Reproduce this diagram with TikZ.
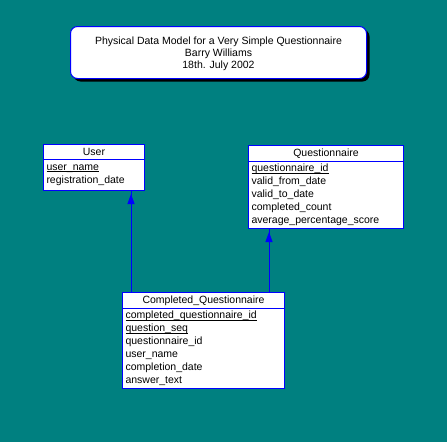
\documentclass[tikz,border=0pt]{standalone}
\usepackage{fontspec}
\setmainfont{Liberation Sans}
\usetikzlibrary{arrows.meta,shadows}
\definecolor{pdmsea}{RGB}{0,128,128}
\definecolor{pdmblue}{RGB}{0,0,255}
\newcommand{\keyfield}[1]{\leavevmode\setbox0\hbox{#1}\rlap{\rule[-1.8pt]{\wd0}{0.9pt}}\box0}

\begin{document}
\begin{tikzpicture}[x=1pt, y=-1pt, line width=1pt,
    font=\fontsize{10.5}{13}\selectfont,
    enthead/.style={draw=pdmblue, fill=white, anchor=north west, inner sep=0pt, minimum height=16pt},
    entbody/.style={draw=pdmblue, fill=white, anchor=north west, inner xsep=3pt, inner ysep=0pt, align=left},
    fklink/.style={draw=pdmblue},
    fkarrow/.style={draw=pdmblue, fill=pdmblue, -{Triangle[length=10pt, width=7pt]}, shorten >=3pt}]

  % Hintergrund
  \fill[pdmsea] (0,0) rectangle (447,442);
  \useasboundingbox (0,0) rectangle (447,442);

  % Titel
  \node[anchor=north west, draw=pdmblue, fill=white, rounded corners=7pt,
        general shadow={fill=black, shadow xshift=3pt, shadow yshift=-3pt},
        minimum width=296pt, minimum height=52pt, inner sep=0pt, text depth=-3pt, align=center,
        font=\fontsize{10.5}{12}\selectfont] (title) at (70,26)
    {Physical Data Model for a Very Simple Questionnaire\\Barry Williams\\18th. July 2002};

  % User
  \node[enthead, minimum width=101pt, minimum height=15pt] (user) at (43,144) {User};
  \node[entbody, text width=95pt, minimum height=31pt] (user body) at (43,159)
    {\keyfield{user\_name}\\registration\_date};

  % Questionnaire
  \node[enthead, minimum width=155pt] (quest) at (248,145) {Questionnaire};
  \node[entbody, text width=149pt, minimum height=67pt] (quest body) at (248,161)
    {\keyfield{questionnaire\_id}\\valid\_from\_date\\valid\_to\_date\\completed\_count\\average\_percentage\_score};

  % Completed_Questionnaire
  \node[enthead, minimum width=162pt] (done) at (122,292) {Completed\_Questionnaire};
  \node[entbody, text width=156pt, minimum height=80pt] (done body) at (122,308)
    {\keyfield{completed\_questionnaire\_id}\\\keyfield{question\_seq}\\questionnaire\_id\\user\_name\\completion\_date\\answer\_text};

  % Beziehungen
  \coordinate (fk user) at (131,292);
  \coordinate (fk quest) at (269,292);
  \draw[fklink] (fk user) -- (fk user |- user body.south);
  \draw[fkarrow] (fk user) -- (fk user |- user body.south);
  \draw[fklink] (fk quest) -- (fk quest |- quest body.south);
  \draw[fkarrow] (fk quest) -- (fk quest |- quest body.south);
\end{tikzpicture}
\end{document}
